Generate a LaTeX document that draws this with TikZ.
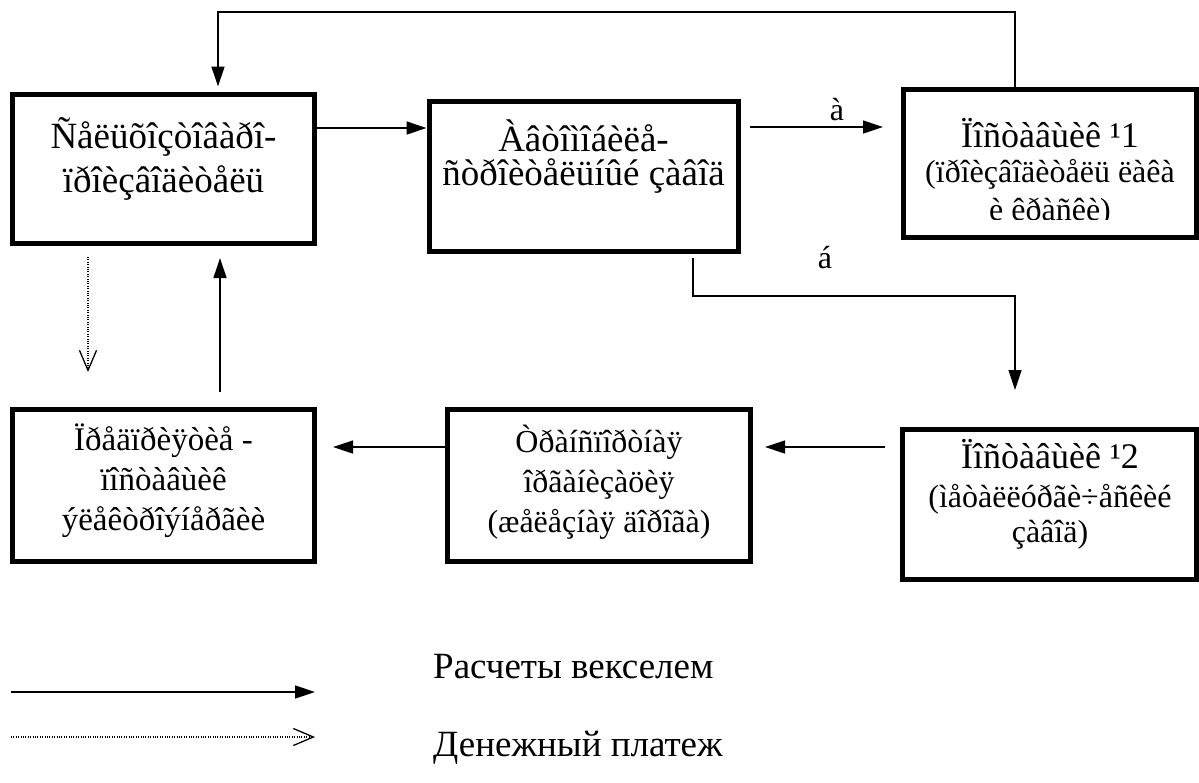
\documentclass[tikz,border=0pt]{standalone}
\usepackage{fontspec}
\setmainfont{Liberation Serif}
\usetikzlibrary{positioning,arrows.meta,calc}
\tikzset{
  box/.style={draw=black, line width=5pt, inner sep=0pt},
  txt/.style={align=center, anchor=base, inner sep=0pt},
  flow/.style={-{Triangle[length=20pt,width=13pt]}, line width=1.3pt},
  cash/.style={-{Straight Barb[length=20pt,width=17pt,line width=1.3pt]}, line width=1.2pt,
    dash pattern=on 1pt off 1.4pt},
  lbl/.style={font=\fontsize{32}{36}\selectfont, inner sep=0pt},
  key/.style={anchor=base west, inner sep=0pt, font=\fontsize{37}{40}\selectfont},
}

\begin{document}
\begin{tikzpicture}[x=1pt,y=-1pt]
  \useasboundingbox (0,0) rectangle (1199,782);
  % boxes
  \node[box, minimum width=302pt, minimum height=149pt] (farm) at (163.5,168.5) {};
  \node[box, minimum width=309pt, minimum height=150pt] (auto) at (583.5,176) {};
  \node[box, minimum width=293.5pt, minimum height=148pt] (sup1) at (1049.75,163) {};
  \node[box, minimum width=294pt, minimum height=150pt] (sup2) at (1049.5,504) {};
  \node[box, minimum width=303pt, minimum height=152pt] (rail) at (599,485) {};
  \node[box, minimum width=301.5pt, minimum height=151.5pt] (plant) at (163.25,485.25) {};
  % box texts (base = last line)
  \node[txt, font=\fontsize{37}{44}\selectfont] (farmtxt) at (163.5,192) {Ñåëüõîçòîâàðî-\\ïðîèçâîäèòåëü};
  \node[txt, font=\fontsize{37}{33.5}\selectfont] (autotxt) at (583.5,185) {Àâòîìîáèëå-\\ñòðîèòåëüíûé çàâîä};
  \node[txt, font=\fontsize{36}{40}\selectfont] (sup1txt) at (1050,147) {Ïîñòàâùèê ¹1};
  \begin{scope}
    \clip (905,150) rectangle (1195,219);
    \node[txt, font=\fontsize{32}{38.5}\selectfont] (sup1sub) at (1050,220.5) {(ïðîèçâîäèòåëü ëàêà\\è êðàñêè)};
  \end{scope}
  \node[txt, font=\fontsize{36}{40}\selectfont] (sup2txt) at (1050,468) {Ïîñòàâùèê ¹2};
  \node[txt, font=\fontsize{32}{35}\selectfont] (sup2sub) at (1050,542) {(ìåòàëëóðãè÷åñêèé\\çàâîä)};
  \node[txt, font=\fontsize{32}{40}\selectfont] (railtxt) at (599,532) {Òðàíñïîðòíàÿ\\îðãàíèçàöèÿ\\(æåëåçíàÿ äîðîãà)};
  \node[txt, font=\fontsize{33}{40}\selectfont] (planttxt) at (163.5,530) {Ïðåäïðèÿòèå -\\ïîñòàâùèê\\ýëåêòðîýíåðãèè};
  % connectors
  \coordinate (topR) at (1015,12);
  \coordinate (topL) at (218,12);
  \draw[flow, shorten >=5pt] (sup1.north -| topR) -- (topR) -- (topL) -- (topL |- farm.north);
  \draw[flow] ([yshift=40.5pt]farm.east) -- ([yshift=40.5pt]farm.east -| auto.west);
  \coordinate (ab) at (0,127);
  \draw[flow, shorten <=9.5pt, shorten >=17.5pt] (auto.east |- ab) -- (sup1.west |- ab);
  \node[lbl] (la) at (837,110) {à};
  \coordinate (bendR) at (1015,296);
  \draw[flow, shorten <=4.5pt, shorten >=36.5pt] ([xshift=109.5pt]auto.south) |- (bendR) -- (bendR |- sup2.north);
  \node[lbl] (lb) at (825,258) {á};
  \coordinate (mid) at (0,447);
  \draw[flow, shorten <=15pt, shorten >=12pt] (sup2.west |- mid) -- (rail.east |- mid);
  \draw[flow, shorten >=16.5pt] (rail.west |- mid) -- (plant.east |- mid);
  \coordinate (upx) at (220,0);
  \draw[flow, shorten <=15pt, shorten >=12.5pt] (plant.north -| upx) -- (farm.south -| upx);
  \coordinate (cashx) at (88,0);
  \draw[cash, shorten <=11.5pt, shorten >=35pt] (farm.south -| cashx) -- (plant.north -| cashx);
  % legend
  \coordinate (k1a) at (11,692);
  \coordinate (k1b) at (315,692);
  \draw[flow, line width=1.6pt] (k1a) -- (k1b);
  \node[key] (k1t) at (433,678) {Расчеты векселем};
  \coordinate (k2a) at (11,737);
  \coordinate (k2b) at (315,737);
  \draw[cash] (k2a) -- (k2b);
  \node[key] (k2t) at (433,756) {Денежный платеж};
\end{tikzpicture}
\end{document}
